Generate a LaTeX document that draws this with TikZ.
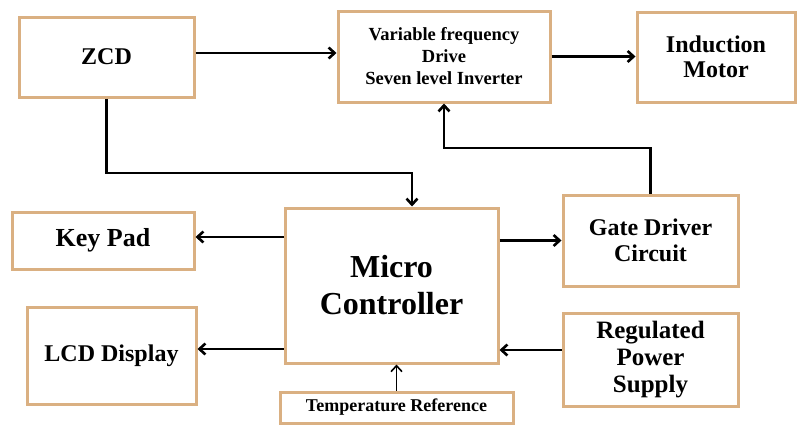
\documentclass[tikz,border=0pt]{standalone}
\usepackage{fontspec}
\setmainfont{Liberation Serif}[BoldFont={Liberation Serif Bold}]
\usetikzlibrary{arrows.meta}
\definecolor{boxtan}{RGB}{218,176,130}
\begin{document}
\begin{tikzpicture}[x=1pt,y=-1pt,>={Straight Barb[length=6pt,width=11pt]},
    blk/.style={draw=boxtan,line width=3pt,fill=white,inner sep=0pt,align=center},
    arr/.style={->,line width=2.6pt,black}]
  \useasboundingbox (0,0) rectangle (797,426);
  % top row
  \node[blk,minimum width=175pt,minimum height=80pt,font=\fontsize{24}{26}\selectfont\bfseries] (zcd) at (106.5,57) {ZCD};
  \node[blk,minimum width=212pt,minimum height=91pt,font=\fontsize{18.5}{22}\selectfont\bfseries] (vfd) at (444,56.5) {Variable frequency\\Drive\\Seven level Inverter};
  \node[blk,minimum width=158pt,minimum height=90pt,font=\fontsize{24}{25}\selectfont\bfseries] (motor) at (716,57) {Induction\\Motor};
  % middle
  \node[blk,minimum width=213pt,minimum height=155pt,font=\fontsize{32}{37}\selectfont\bfseries] (micro) at (391.5,285.5) {Micro\\Controller};
  \node[blk,minimum width=182pt,minimum height=57pt,font=\fontsize{26}{28}\selectfont\bfseries] (keypad) at (103,240.5) {Key Pad};
  \node[blk,minimum width=169pt,minimum height=97pt,font=\fontsize{24}{26}\selectfont\bfseries] (lcd) at (111.5,355.5) {LCD Display};
  \node[blk,minimum width=175pt,minimum height=91pt,font=\fontsize{24}{26}\selectfont\bfseries] (gate) at (650.5,240.5) {Gate Driver\\Circuit};
  \node[blk,minimum width=175pt,minimum height=93pt,font=\fontsize{25}{27}\selectfont\bfseries] (rps) at (650.5,359.5) {Regulated\\Power\\Supply};
  \node[blk,minimum width=233pt,minimum height=31pt,font=\fontsize{18}{20}\selectfont\bfseries] (temp) at (396.5,407.5) {Temperature Reference};
  % bends
  \coordinate (zbend) at (412,173);
  \coordinate (gbend) at (444,148);
  % connectors
  \draw[arr] ([yshift=4pt]zcd.east) -- ([yshift=4pt]zcd.east -| vfd.west);
  \draw[arr] (vfd.east) -- (vfd.east -| motor.west);
  \draw[arr] (zcd.south) |- (zbend) -- (zbend |- micro.north);
  \draw[arr] (gate.north) |- (gbend) -- (vfd.south);
  \draw[arr] ([yshift=3.5pt]micro.west |- keypad.east) -- ([yshift=3.5pt]keypad.east);
  \draw[arr] ([yshift=6.5pt]micro.west |- lcd.east) -- ([yshift=6.5pt]lcd.east);
  \draw[arr] (micro.east |- gate.west) -- (gate.west);
  \draw[arr] ([yshift=9.5pt]rps.west) -- ([yshift=9.5pt]rps.west -| micro.east);
  \draw[arr,line width=1.6pt] (temp.north) -- (temp.north |- micro.south);
\end{tikzpicture}
\end{document}
